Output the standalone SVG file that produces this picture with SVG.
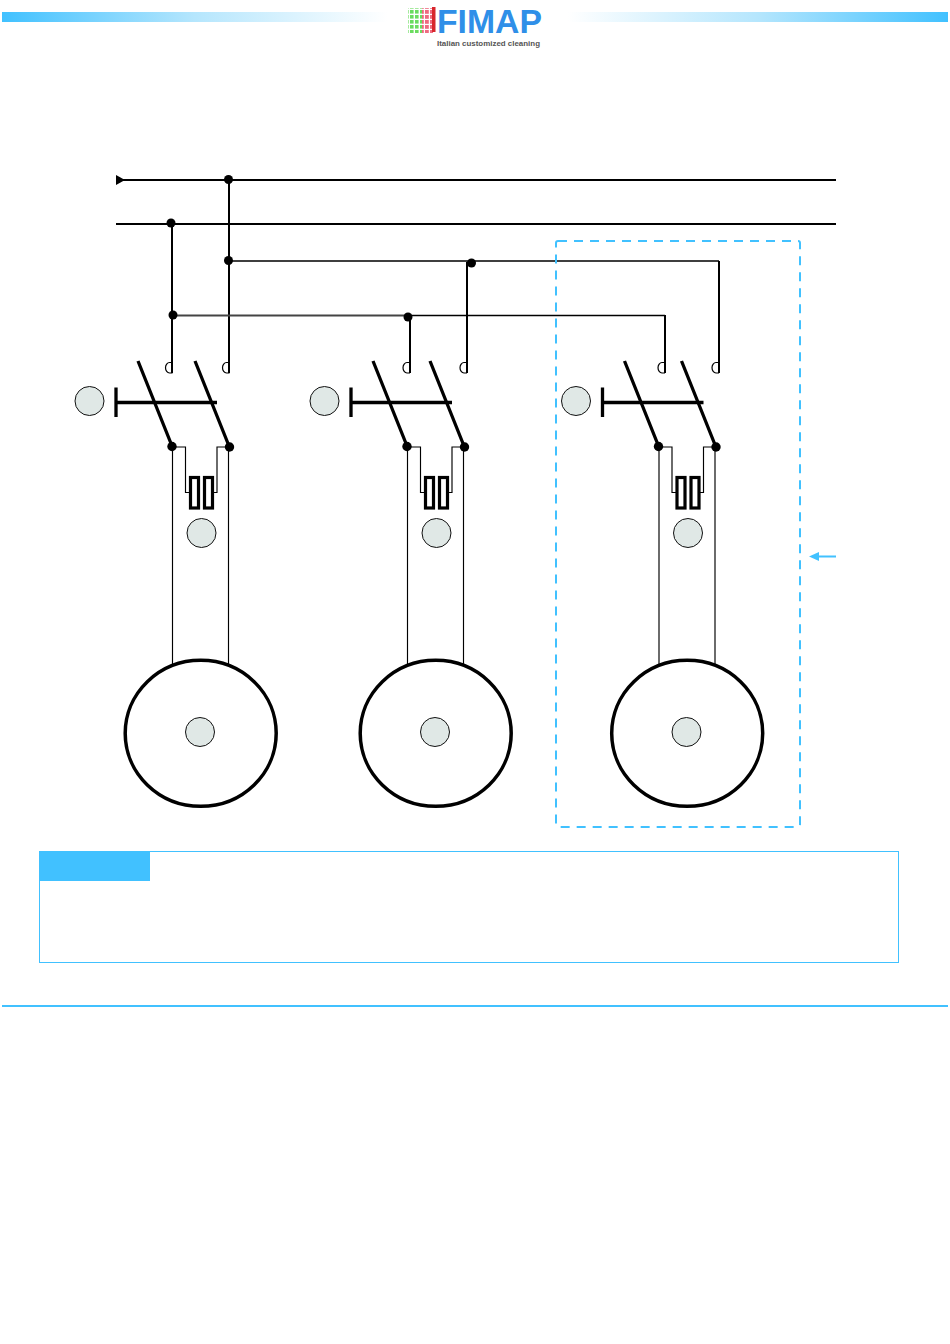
<svg xmlns="http://www.w3.org/2000/svg" xmlns:xlink="http://www.w3.org/1999/xlink" width="950" height="1344" viewBox="0 0 950 1344">
<style>
.bus{fill:none;stroke:#000;stroke-width:2}
.thin{fill:none;stroke:#000;stroke-width:1.150}
.med{fill:none;stroke:#000;stroke-width:1.300}
.drop{fill:none;stroke:#000;stroke-width:2}
.dot{fill:#000}
.blade{fill:none;stroke:#000;stroke-width:3.300}
.fuse{fill:#fff;stroke:#000;stroke-width:3.200}
.tag{fill:#e0e8e6;stroke:#111;stroke-width:1}
.motor{fill:#fff;stroke:#000;stroke-width:3.500}
.accent{fill:none;stroke:#41c1ff}
.cont{fill:none;stroke:#000;stroke-width:1.200}
</style>
<defs>
<linearGradient id="gl" x1="0" x2="1" y1="0" y2="0"><stop offset="0" stop-color="#41c1ff"/><stop offset="0.5" stop-color="#b5e6fd"/><stop offset="1" stop-color="#fff"/></linearGradient>
<linearGradient id="gr" x1="1" x2="0" y1="0" y2="0"><stop offset="0" stop-color="#41c1ff"/><stop offset="0.5" stop-color="#b5e6fd"/><stop offset="1" stop-color="#fff"/></linearGradient>
<pattern id="dg" width="5" height="5" patternUnits="userSpaceOnUse"><rect width="3.600" height="3.600" fill="#6bdc5f"/></pattern>
<pattern id="dr" width="5" height="5" patternUnits="userSpaceOnUse"><rect width="3.800" height="3.800" fill="#ee6a80"/></pattern>
<g id="unit">
<path class="blade" d="M138 361L172 446M195 361L229 446"/>
<path class="blade" d="M116 402.500H217M116 387.500V417"/>
<circle class="dot" cx="172" cy="446.500" r="4.700"/>
<circle class="dot" cx="229.500" cy="447" r="4.700"/>
<path class="thin" d="M172.500 447V668M228.500 447V668M172 447H185.500V492.500H190M229 447H217V492.500H213"/>
<rect class="fuse" x="190.500" y="477.500" width="8" height="30.500"/>
<rect class="fuse" x="204.500" y="477.500" width="8" height="30.500"/>
<circle class="tag" cx="89.500" cy="401" r="14.500"/>
<circle class="tag" cx="201.500" cy="533" r="14.500"/>
<ellipse class="motor" cx="200.700" cy="733.300" rx="75.500" ry="73"/>
<circle class="tag" cx="200" cy="732" r="14.500"/>
</g>
<path id="dee" class="cont" d="M0 -10.500H-3A3.800 5 0 0 0 -3 0H0"/>
</defs>
<rect width="950" height="1344" fill="#fff"/>
<g id="header">
<rect x="2" y="12" width="385" height="10" fill="url(#gl)"/>
<rect x="568" y="12" width="380" height="10" fill="url(#gr)"/>
</g>
<g id="logo">
<rect x="408" y="8" width="14" height="25" fill="url(#dg)"/>
<rect x="422" y="8" width="11" height="25" fill="url(#dr)"/>
<rect x="432" y="7" width="3.500" height="25" fill="#d8262c"/>
<text x="437" y="32.500" font-family="Liberation Sans, sans-serif" font-size="33" font-weight="700" fill="#2f8fe8" textLength="105" lengthAdjust="spacingAndGlyphs">FIMAP</text>
<text x="437" y="46" font-family="Liberation Sans, sans-serif" font-size="7" font-weight="700" fill="#555" textLength="103" lengthAdjust="spacingAndGlyphs">Italian customized cleaning</text>
</g>
<g id="connectors">
<path class="bus" d="M116 180H836M116 224H836"/>
<path d="M116 175L125 180L116 185Z" fill="#000"/>
<path class="bus" d="M229 180V373M172 224V373"/>
<path class="med" d="M229 261H719M408 315.500H665"/>
<path d="M173 315.500H408" fill="none" stroke="#444" stroke-width="1.800"/>
<path class="drop" d="M719 261V373M665 315V373M467 262V373M410 316V373"/>
<use xlink:href="#dee" href="#dee" transform="translate(172.500 373)"/>
<use xlink:href="#dee" href="#dee" transform="translate(229.500 373)"/>
<use xlink:href="#dee" href="#dee" transform="translate(410 373)"/>
<use xlink:href="#dee" href="#dee" transform="translate(467 373)"/>
<use xlink:href="#dee" href="#dee" transform="translate(665 373)"/>
<use xlink:href="#dee" href="#dee" transform="translate(719 373)"/>
<circle class="dot" cx="228.500" cy="179.500" r="4.500"/>
<circle class="dot" cx="171" cy="223" r="4.500"/>
<circle class="dot" cx="228.500" cy="260.500" r="4.500"/>
<circle class="dot" cx="173" cy="315" r="4.500"/>
<circle class="dot" cx="408" cy="317" r="4.500"/>
<circle class="dot" cx="471.500" cy="263" r="4.500"/>
</g>
<g id="unit-1"><use xlink:href="#unit" href="#unit"/></g>
<g id="unit-2"><use xlink:href="#unit" href="#unit" transform="translate(235 0)"/></g>
<g id="unit-3"><use xlink:href="#unit" href="#unit" transform="translate(486.500 0)"/></g>
<g id="boundary">
<rect class="accent" x="556" y="241" width="244" height="586" rx="2" stroke-width="2" stroke-dasharray="9 7"/>
<path class="accent" d="M815 556.500H836" stroke-width="2"/>
<path d="M809 556.500L819 552V561Z" fill="#41c1ff"/>
</g>
<g id="note">
<rect class="accent" x="39.500" y="851.500" width="859" height="111" stroke-width="1"/>
<rect x="39" y="851" width="111" height="30" fill="#41c1ff"/>
</g>
<path id="footer-rule" d="M2 1006H948" stroke="#41c1ff" stroke-width="2" fill="none"/>
</svg>
